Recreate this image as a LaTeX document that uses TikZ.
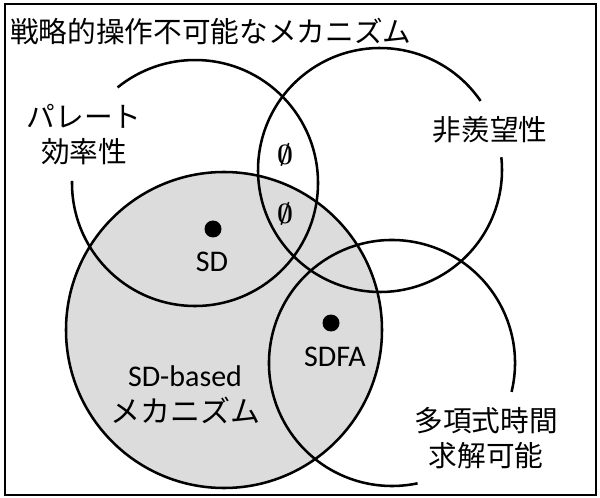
\documentclass[tikz,border=0pt]{standalone}
\usepackage{fontspec}
\setmainfont{Carlito}
\newfontfamily\jp{Noto Sans CJK JP}
\definecolor{sdgray}{RGB}{220,220,220}
\begin{document}
\begin{tikzpicture}[x=0.75pt,y=0.75pt,
  ring/.style={draw=black, line width=1.9pt},
  frame/.style={draw=black, line width=1.6pt},
  jplabel/.style={font=\jp\fontsize{21.5pt}{26.25pt}\selectfont, align=center, inner sep=0pt},
  latlabel/.style={font=\fontsize{22.5pt}{27pt}\selectfont, align=center, inner sep=0pt},
  emptylabel/.style={font=\fontsize{20pt}{24pt}\selectfont\boldmath, inner sep=0pt},
  dotmark/.style={circle, fill=black, minimum size=12.75pt, inner sep=0pt}]
\useasboundingbox (0,0) rectangle (600,497);
% outer frame
\draw[frame] (5,2) rectangle (596,493);
% SD-based mechanisms (gray)
\draw[ring, fill=sdgray] (224,167) circle[radius=118.5pt];
% Pareto efficiency
\draw[ring] (195,314) ++(179:92.25pt) arc[start angle=179, end angle=489, radius=92.25pt];
% envy-freeness
\draw[ring] (380,327) ++(34.5:91.5pt) arc[start angle=34.5, end angle=366, radius=91.5pt];
% polynomial-time solvable
\draw[ring] (392,134) ++(-13.6:92.25pt) arc[start angle=-13.6, end angle=282, radius=92.25pt];
% labels
\node[jplabel, anchor=west] (title) at (10,466) {戦略的操作不可能なメカニズム};
\node[jplabel] (pareto) at (84,362.5) {パレート\\効率性};
\node[jplabel] (envy) at (490,367) {非羨望性};
\node[jplabel] (poly) at (486,58.5) {多項式時間\\求解可能};
\node[emptylabel] (empty1) at (285,342) {$\emptyset$};
\node[emptylabel] (empty2) at (285,283) {$\emptyset$};
\node[dotmark] (sddot) at (213,268) {};
\node[latlabel] (sd) at (212,235) {SD};
\node[dotmark] (sdfadot) at (331,174) {};
\node[latlabel] (sdfa) at (335,140) {SDFA};
\node[latlabel] (sdbased) at (185,102) {SD-based\\{\jp メカニズム}};
\end{tikzpicture}
\end{document}
